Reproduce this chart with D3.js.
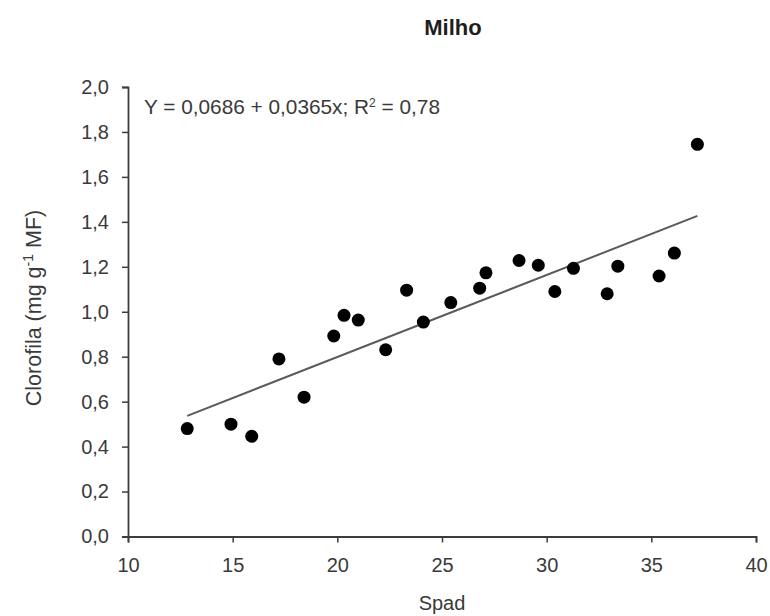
<!DOCTYPE html>
<html>
<head>
<meta charset="utf-8">
<script src="https://cdn.jsdelivr.net/npm/d3@7"></script>
<style>
  html, body { margin: 0; padding: 0; background: #fff; }
  svg { display: block; font-family: "Liberation Sans", Arial, sans-serif; }
</style>
</head>
<body>
<svg id="chart" width="770" height="616"></svg>
<script>
// SPAD readings and leaf chlorophyll (mg g-1 MF) for maize
const spad = [12.83, 14.92, 15.91, 17.21, 18.41, 19.83, 20.32, 21.0, 22.31, 23.31, 24.11,
              25.42, 26.80, 27.10, 28.68, 29.60, 30.39, 31.28, 32.89, 33.40, 35.37, 36.10, 37.2];
const clorofila = [0.48, 0.50, 0.446, 0.79, 0.62, 0.892, 0.984, 0.963, 0.831, 1.096, 0.954,
                   1.041, 1.105, 1.173, 1.228, 1.207, 1.090, 1.193, 1.08, 1.203, 1.159, 1.261, 1.745];

// Fitted linear model
const intercept = 0.0686;
const slope = 0.0365;
const r2 = "0,78";

const xTicks = [10, 15, 20, 25, 30, 35, 40];
const yTicks = [0, 0.2, 0.4, 0.6, 0.8, 1.0, 1.2, 1.4, 1.6, 1.8, 2.0];

const svg = d3.select("#chart");
const x = d3.scaleLinear().domain([10, 40]).range([128, 756]);
const y = d3.scaleLinear().domain([0, 2]).range([536.5, 87]);
const fmt = v => d3.format(".1f")(v).replace(".", ",");
const axisColor = "#3c3c3c";
const textColor = "#3a3a3a";

// Axes
const gx = svg.append("g").attr("transform", `translate(0,${y(0)})`)
  .call(d3.axisBottom(x).tickValues(xTicks).tickSize(6).tickPadding(15).tickFormat(d3.format("d")));
const gy = svg.append("g").attr("transform", `translate(${x(10)},0)`)
  .call(d3.axisLeft(y).tickValues(yTicks).tickSize(6).tickPadding(13).tickFormat(fmt));
[gx, gy].forEach(g => {
  g.select(".domain").attr("stroke", axisColor).attr("stroke-width", 1.8);
  g.selectAll(".tick line").attr("stroke", axisColor).attr("stroke-width", 1.5);
  g.selectAll(".tick text").attr("fill", textColor).style("font-size", "20px")
    .style("font-family", "'Liberation Sans', Arial, sans-serif");
});

// Regression line over the observed SPAD range
const xMin = d3.min(spad), xMax = d3.max(spad);
svg.append("line")
  .attr("x1", x(xMin)).attr("y1", y(intercept + slope * xMin))
  .attr("x2", x(xMax)).attr("y2", y(intercept + slope * xMax))
  .attr("stroke", "#5a5a5a").attr("stroke-width", 2);

// Observations
svg.append("g").selectAll("circle")
  .data(spad.map((s, i) => [s, clorofila[i]]))
  .join("circle")
  .attr("cx", d => x(d[0])).attr("cy", d => y(d[1]))
  .attr("r", 6.5).attr("fill", "#000");

// Title
svg.append("text").attr("x", 453).attr("y", 35).attr("text-anchor", "middle")
  .attr("fill", "#1e1e1e").style("font-size", "22px").style("font-weight", "bold")
  .text("Milho");

// Equation
const eq = svg.append("text").attr("x", 144).attr("y", 114)
  .attr("fill", textColor).style("font-size", "20.8px");
eq.append("tspan").text(`Y = ${String(intercept).replace(".", ",")} + ${String(slope).replace(".", ",")}x; R`);
eq.append("tspan").attr("dy", -7).style("font-size", "12px").text("2");
eq.append("tspan").attr("dy", 7).text(` = ${r2}`);

// Axis titles
svg.append("text").attr("x", 442).attr("y", 610).attr("text-anchor", "middle")
  .attr("fill", textColor).style("font-size", "20px").text("Spad");

const yt = svg.append("text").attr("transform", "translate(41,308) rotate(-90)")
  .attr("text-anchor", "middle").attr("fill", textColor).style("font-size", "21.5px");
yt.append("tspan").text("Clorofila (mg g");
yt.append("tspan").attr("dy", -8).style("font-size", "14px").text("-1");
yt.append("tspan").attr("dy", 8).text(" MF)");
</script>
</body>
</html>
